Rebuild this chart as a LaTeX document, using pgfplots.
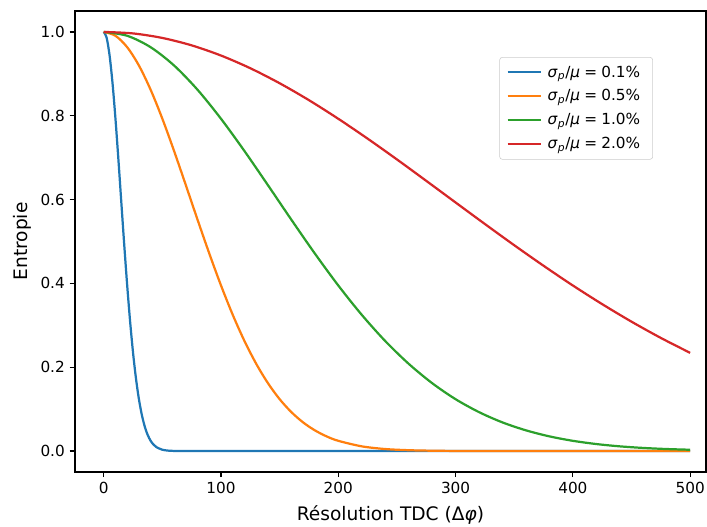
\documentclass[border=0pt]{standalone}
\usepackage{pgfplots}
\pgfplotsset{compat=1.18}
\usepackage{fontspec}
\setmainfont{DejaVu Sans}
\definecolor{tabblue}{HTML}{1F77B4}
\definecolor{taborange}{HTML}{FF7F0E}
\definecolor{tabgreen}{HTML}{2CA02C}
\definecolor{tabred}{HTML}{D62728}
\begin{document}
\begin{tikzpicture}
\begin{axis}[
  name=ax,
  scale only axis,
  width=454.3pt, height=331.9pt,
  xmin=-24.5, xmax=513.5,
  ymin=-0.05, ymax=1.05,
  xtick={0,100,200,300,400,500},
  ytick={0,0.2,0.4,0.6,0.8,1.0},
  yticklabel style={/pgf/number format/.cd,fixed,fixed zerofill,precision=1},
  /pgf/number format/assume math mode=true,
  ticklabel style={font=\fontsize{11}{13}\selectfont},
  tick align=outside,
  tick pos=left,
  major tick length=3.8pt,
  every tick/.style={black, line width=0.85pt},
  axis line style={line width=0.85pt},
  xlabel={Résolution TDC (Δ\textit{φ})},
  ylabel={Entropie},
  label style={font=\fontsize{13.4}{16}\selectfont},
  xlabel style={at={(axis description cs:0.5,-0.093)}, anchor=center},
  ylabel style={at={(axis description cs:-0.084,0.5)}, anchor=center},
  legend cell align=left,
  legend style={at={(0.916,0.9)}, anchor=north east, draw=black!20, rounded corners=2pt,
    fill=white, fill opacity=0.8, text opacity=1, font=\fontsize{11}{13}\selectfont,
    row sep=3.6pt, inner xsep=5pt, inner ysep=4pt,
    nodes={inner xsep=4pt}},
  legend image code/.code={\draw[#1] (0pt,0pt) -- (24pt,0pt);},
  every axis plot/.append style={line width=1.6pt},
]
\addplot[tabblue, smooth] coordinates {
(0,1) (2.5,0.9856) (5,0.9436) (7.5,0.8775) (10,0.7927) (12.5,0.6957) (15,0.5930)
(17.5,0.4910) (20,0.3949) (22.5,0.3086) (25,0.2342) (27.5,0.1727) (30,0.1236)
(32.5,0.0860) (35,0.0581) (37.5,0.0381) (40,0.0243) (42.5,0.0151) (45,0.0091)
(50,0.0030) (55,0.0009) (60,0.0002) (70,0) (100,0) (150,0) (200,0) (250,0)
(300,0) (350,0) (400,0) (450,0) (500,0)
};
\addlegendentry{\textit{σ}\textsubscript{\textit{p}}/\textit{μ}\;=\;0.1\%}
\addplot[taborange, smooth] coordinates {
(0,1) (10,0.9908) (20,0.9635) (30,0.9198) (40,0.8619) (50,0.7927) (60,0.7157)
(70,0.6343) (80,0.5518) (90,0.4712) (100,0.3949) (110,0.3249) (120,0.2624)
(130,0.2081) (140,0.1619) (150,0.1236) (160,0.0927) (170,0.0682) (180,0.0493)
(190,0.0349) (200,0.0243) (220,0.0111) (240,0.0047) (260,0.0019) (280,0.0007)
(300,0.0002) (350,0) (400,0) (450,0) (500,0)
};
\addlegendentry{\textit{σ}\textsubscript{\textit{p}}/\textit{μ}\;=\;0.5\%}
\addplot[tabgreen, smooth] coordinates {
(0,1) (20,0.9908) (40,0.9635) (60,0.9198) (80,0.8619) (100,0.7927) (120,0.7157)
(140,0.6343) (160,0.5518) (180,0.4712) (200,0.3949) (220,0.3249) (240,0.2624)
(260,0.2081) (280,0.1619) (300,0.1236) (320,0.0927) (340,0.0682) (360,0.0493)
(380,0.0349) (400,0.0243) (420,0.0166) (440,0.0111) (460,0.0073) (480,0.0047)
(500,0.0030)
};
\addlegendentry{\textit{σ}\textsubscript{\textit{p}}/\textit{μ}\;=\;1.0\%}
\addplot[tabred, smooth] coordinates {
(0,1) (25,0.9964) (50,0.9856) (75,0.9679) (100,0.9436) (125,0.9133) (150,0.8775)
(175,0.8371) (200,0.7927) (225,0.7453) (250,0.6957) (275,0.6446) (300,0.5930)
(325,0.5416) (350,0.4910) (375,0.4420) (400,0.3949) (425,0.3504) (450,0.3086)
(475,0.2698) (500,0.2342)
};
\addlegendentry{\textit{σ}\textsubscript{\textit{p}}/\textit{μ}\;=\;2.0\%}
\end{axis}
\pgfresetboundingbox
\path[use as bounding box] ([shift={(-54pt,-39.6pt)}]ax.south west) rectangle ([shift={(0.72pt,7.9pt)}]ax.north east);
\end{tikzpicture}
\end{document}
